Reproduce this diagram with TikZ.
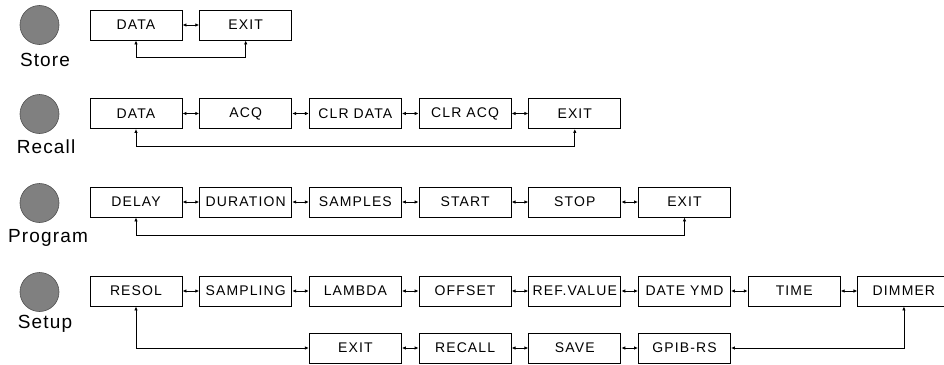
\documentclass[tikz,border=0pt]{standalone}
\usepackage{fontspec}
\setmainfont{Liberation Sans}
\newfontfamily\menufont[LetterSpace=8]{Liberation Sans}
\newfontfamily\keyfont[LetterSpace=6]{Liberation Sans}
\usetikzlibrary{arrows.meta}

\definecolor{keygray}{RGB}{128,128,128}
\definecolor{keyrim}{RGB}{80,80,80}

\tikzset{
    menubox/.style={draw, line width=0.9pt, minimum width=92pt, minimum height=30pt,
        inner sep=0pt, font=\menufont\fontsize{14}{16}\selectfont},
    keybtn/.style={circle, fill=keygray, draw=keyrim, line width=0.6pt,
        minimum size=39pt, inner sep=0pt},
    keylabel/.style={anchor=base, inner sep=0pt, font=\keyfont\fontsize{19}{22}\selectfont},
    link/.style={<->, line width=0.8pt, >={Latex[length=4pt,width=3.5pt]}},
}

\begin{document}
\begin{tikzpicture}[x=1pt, y=-1pt]
    \useasboundingbox (0,0) rectangle (944,364);

    \node[keybtn] (storekey) at (39.5,25) {};
    \node[keylabel] (storetxt) at (45,66) {Store};
    \foreach \t [count=\i] in {DATA,EXIT}
        \node[menubox] (st\i) at ({136+109.7*(\i-1)},25) {\t};
    \draw[link] (st1) -- (st2);
    \draw[link] (st1.south) -- ++(0,17) -| (st2.south);

    \node[keybtn] (recallkey) at (39.5,114) {};
    \node[keylabel] (recalltxt) at (46,153) {Recall};
    \foreach \t [count=\i] in {DATA,ACQ,CLR DATA,CLR ACQ,EXIT}
        \node[menubox] (rc\i) at ({136+109.7*(\i-1)},113.5) {\t};
    \foreach \i/\j in {1/2,2/3,3/4,4/5}
        \draw[link] (rc\i) -- (rc\j);
    \draw[link] (rc1.south) -- ++(0,17.5) -| (rc5.south);

    \node[keybtn] (programkey) at (39.5,203) {};
    \node[keylabel] (programtxt) at (48,242) {Program};
    \foreach \t [count=\i] in {DELAY,DURATION,SAMPLES,START,STOP,EXIT}
        \node[menubox] (pg\i) at ({136+109.7*(\i-1)},202) {\t};
    \foreach \i/\j in {1/2,2/3,3/4,4/5,5/6}
        \draw[link] (pg\i) -- (pg\j);
    \draw[link] (pg1.south) -- ++(0,18) -| (pg6.south);

    \node[keybtn] (setupkey) at (39.5,292) {};
    \node[keylabel] (setuptxt) at (45,328) {Setup};
    \foreach \t [count=\i] in {RESOL,SAMPLING,LAMBDA,OFFSET,REF.VALUE,DATE YMD,TIME,DIMMER}
        \node[menubox] (su\i) at ({136+109.7*(\i-1)},291) {\t};
    \foreach \t [count=\i from 3] in {EXIT,RECALL,SAVE,GPIB-RS}
        \node[menubox] (sl\i) at ({136+109.7*(\i-1)},348) {\t};
    \foreach \i/\j in {1/2,2/3,3/4,4/5,5/6,6/7,7/8}
        \draw[link] (su\i) -- (su\j);
    \foreach \i/\j in {3/4,4/5,5/6}
        \draw[link] (sl\i) -- (sl\j);
    \draw[link] (su1.south) |- (sl3.west);
    \draw[link] (su8.south) |- (sl6.east);
\end{tikzpicture}
\end{document}
